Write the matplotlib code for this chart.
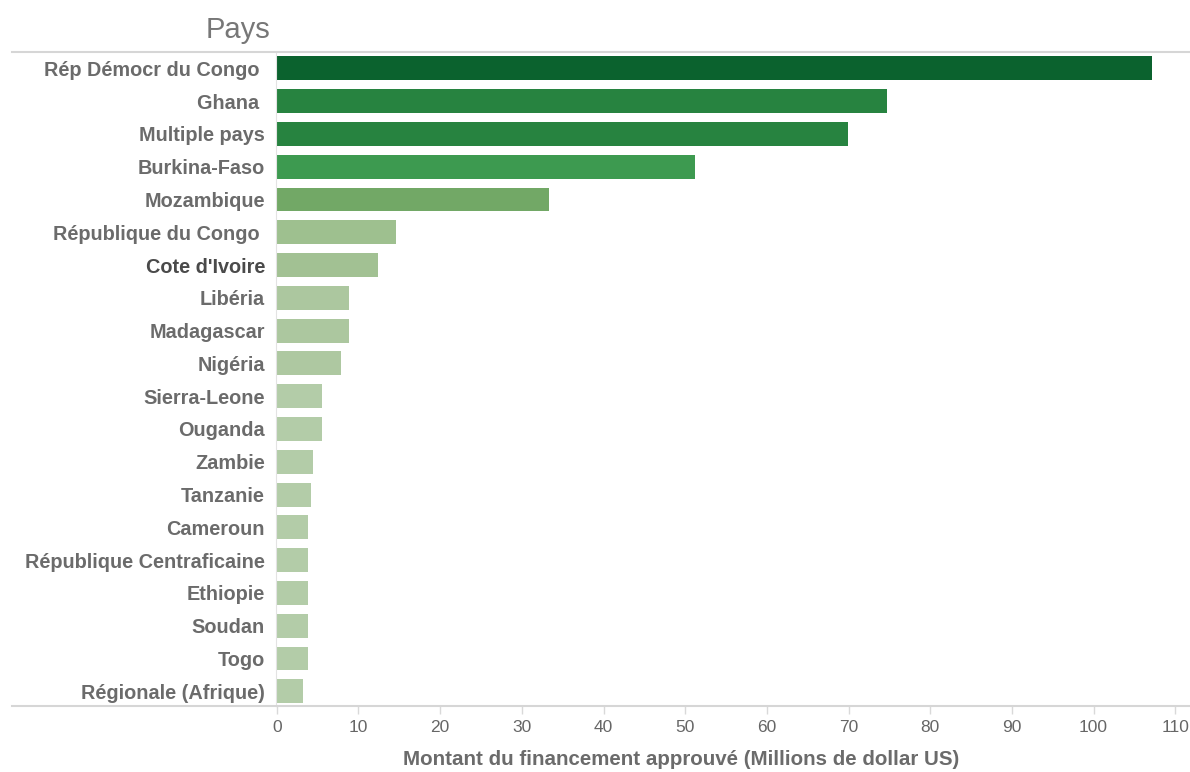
import matplotlib
matplotlib.use("Agg")
import matplotlib.pyplot as plt
from matplotlib.lines import Line2D

pays = ["Rép Démocr du Congo ", "Ghana ", "Multiple pays", "Burkina-Faso", "Mozambique",
        "République du Congo ", "Cote d'Ivoire", "Libéria", "Madagascar", "Nigéria",
        "Sierra-Leone", "Ouganda", "Zambie", "Tanzanie", "Cameroun",
        "République Centraficaine", "Ethiopie", "Soudan", "Togo", "Régionale (Afrique)"]
montants = [107.2, 74.7, 69.9, 51.2, 33.3, 14.6, 12.4, 8.8, 8.8, 7.8,
            5.5, 5.5, 4.4, 4.2, 3.8, 3.8, 3.8, 3.8, 3.8, 3.2]
couleurs = ["#0b622e", "#278340", "#278340", "#3d9a50", "#72a866",
            "#9ec08f", "#a2c193", "#acc79f", "#acc79f", "#aec8a1",
            "#b3cca8", "#b3cca8", "#b3cca8", "#b3cca8", "#b3cca8",
            "#b3cca8", "#b3cca8", "#b3cca8", "#b3cca8", "#b3cca8"]
xticks = list(range(0, 111, 10))

plt.rcParams['font.family'] = ['Liberation Sans', 'DejaVu Sans']

fig = plt.figure(figsize=(11.9, 7.72), dpi=100)
ax = fig.add_axes([276 / 1190, 1 - 706 / 772, 1 - 276 / 1190, (706 - 52) / 772])

pos = list(range(len(pays)))
ax.barh(pos, montants, height=0.73, color=couleurs)
ax.set_ylim(19.45, -0.5)
ax.set_xlim(-0.1, 111.8)

ax.set_yticks(pos)
ax.set_yticklabels(pays, fontsize=14.3, fontweight='bold', color='#6b6b6b')
ax.tick_params(axis='y', length=0, pad=8)
ax.get_yticklabels()[6].set_color('#4a4a4a')

ax.set_xticks(xticks)
ax.set_xticklabels([str(v) for v in xticks], fontsize=12.5, color='#666666')
ax.tick_params(axis='x', length=6, width=1, color='#d9d9d9', pad=4)

for s in ['top', 'right', 'bottom']:
    ax.spines[s].set_visible(False)
ax.spines['left'].set_color('#e3e3e3')

# full-width rules like the Tableau header / footer
for y in [52, 706]:
    fig.add_artist(Line2D([12 / 1190, 1], [1 - y / 772, 1 - y / 772],
                          color='#d6d6d6', lw=1.5, transform=fig.transFigure))

fig.text(270 / 1190, 1 - 38 / 772, "Pays", ha='right', va='baseline',
         fontsize=21, color='#777777')
fig.text(681 / 1190, 1 - 769 / 772, "Montant du financement approuvé (Millions de dollar US)",
         ha='center', va='bottom', fontsize=14.8, fontweight='bold', color='#6b6b6b')

fig.savefig("out.png", dpi=100)
